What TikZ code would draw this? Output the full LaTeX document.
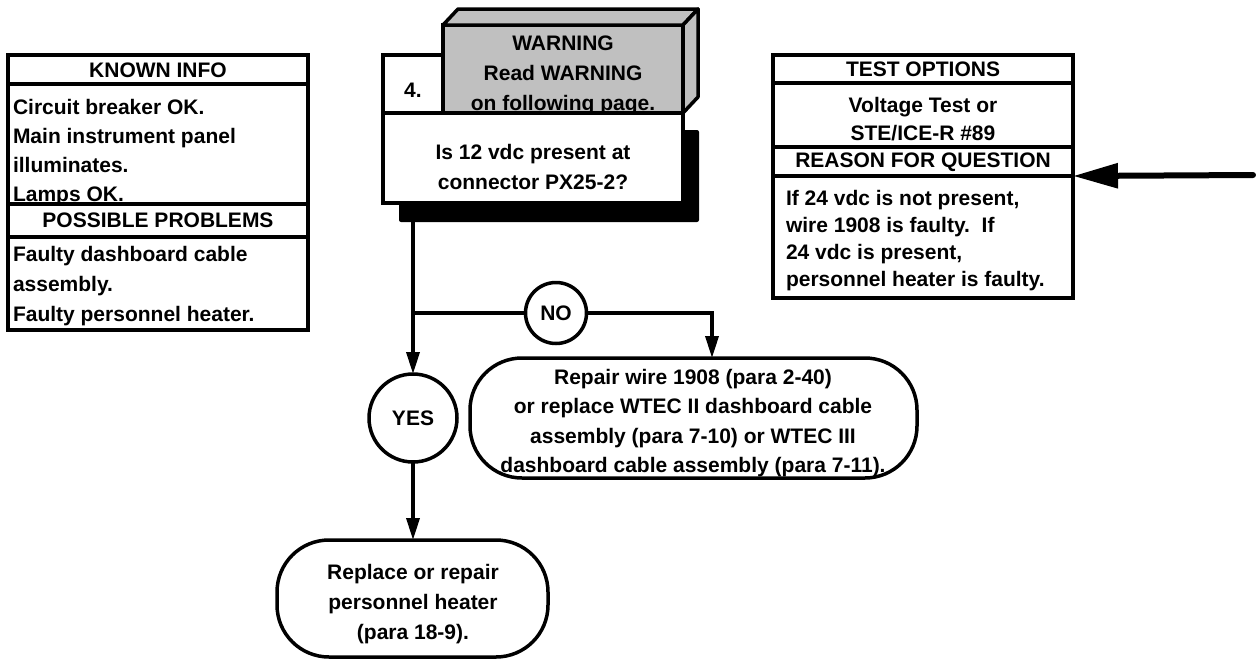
\documentclass[tikz,border=0pt]{standalone}
\usepackage{fontspec}
\setmainfont{Liberation Sans}
\usetikzlibrary{arrows.meta}
\definecolor{wgray}{HTML}{C0C0C0}
\begin{document}
\begin{tikzpicture}[x=1pt,y=-1pt,
  line width=3.5pt,
  every node/.style={inner sep=0pt, outer sep=0pt},
  txt/.style={font=\bfseries\fontsize{21}{29}\selectfont, align=center},
  ltxt/.style={txt, align=left, anchor=west},
  frame/.style={draw, minimum width=300pt, anchor=north west},
  termbox/.style={draw, rounded corners=52pt, fill=white},
  decision/.style={draw, circle, fill=white},
  face/.style={draw, fill=wgray, line join=round},
  ar/.style={-{Triangle[length=22pt,width=13pt]}},
  bigar/.style={line width=6pt, line cap=round, -{Triangle[length=45pt,width=24pt]}}]
\useasboundingbox (0,0) rectangle (1256,662);

% ---------- left table ----------
\node[frame, minimum height=29pt]  (kh) at (8,55) {};
\node[frame, minimum height=120pt] (kt) at (8,84) {};
\node[frame, minimum height=33pt]  (ph) at (8,204) {};
\node[frame, minimum height=93pt]  (pt) at (8,237) {};
\node[txt] (khT) at (158,70) {KNOWN INFO};
\node[ltxt, font=\bfseries\fontsize{21}{29}\selectfont] (ktT) at (13,152.5) {Circuit breaker OK.\\Main instrument panel\\illuminates.\\Lamps OK.};
\node[txt] (phT) at (158,220.5) {POSSIBLE PROBLEMS};
\node[ltxt, font=\bfseries\fontsize{21}{30}\selectfont] (ptT) at (13,286) {Faulty dashboard cable\\assembly.\\Faulty personnel heater.};

% ---------- right table ----------
\node[frame, minimum height=28pt]  (th) at (773,55) {};
\node[frame, minimum height=64pt]  (tt) at (773,83) {};
\node[frame, minimum height=29pt]  (rh) at (773,147) {};
\node[frame, minimum height=122pt] (rt) at (773,176) {};
\node[txt] (thT) at (923,69) {TEST OPTIONS};
\node[txt, font=\bfseries\fontsize{21}{28}\selectfont] (ttT) at (923,119.5) {Voltage Test or\\STE/ICE-R \#89};
\node[txt] (rhT) at (923,162) {REASON FOR QUESTION};
\node[ltxt, font=\bfseries\fontsize{21}{27}\selectfont] (rtT) at (786,240.5) {If 24 vdc is not present,\\wire 1908 is faulty.\ \ If\\24 vdc is present,\\personnel heater is faulty.};

% ---------- connectors ----------
\coordinate (br) at (413,313);
\coordinate (noturn) at (712,313);
\coordinate (rtail) at (1253,175);

% ---------- question block ----------
\node[fill=black, rounded corners=2pt, minimum width=300pt, minimum height=92pt, anchor=north west] (qshadow) at (399,130) {};
\node[draw, fill=wgray, minimum width=240pt, minimum height=88pt, anchor=north west] (warn) at (443,25) {};
\path[face] (warn.north west) -- ++(15,-16) -- ++(240,0) -- (warn.north east) -- cycle;
\path[face] (warn.north east) -- ++(15,-16) -- ++(0,88) -- (warn.south east) -- cycle;
\node[draw, fill=white, minimum width=60pt, minimum height=58pt, anchor=north west] (num) at (383,55) {};
\node[draw, fill=white, minimum width=300pt, minimum height=90pt, anchor=north west] (q) at (383,113) {};
\node[txt] (numT) at (413,90) {4.};
\node[txt, font=\bfseries\fontsize{21}{30}\selectfont] (warnT) at (563,75) {WARNING\\Read WARNING\\on following page.};
\node[txt, font=\bfseries\fontsize{21}{30}\selectfont] (qT) at (533,167) {Is 12 vdc present at\\connector PX25-2?};

% ---------- decisions and results ----------
\node[decision, minimum size=88pt] (yes) at (413,418) {};
\node[txt] (yesT) at (yes.center) {YES};
\node[decision, minimum size=61pt] (no) at (556,313) {};
\node[txt] (noT) at (no.center) {NO};

\node[termbox, minimum width=447pt, minimum height=120pt] (rep) at (693.5,418) {};
\node[txt, font=\bfseries\fontsize{21}{29.5}\selectfont] (repT) at (693,423) {Repair wire 1908 (para 2-40)\\or replace WTEC II dashboard cable\\assembly (para 7-10) or WTEC III\\dashboard cable assembly (para 7-11).};

\node[termbox, minimum width=271pt, minimum height=117pt] (heat) at (412.5,598.5) {};
\node[txt, font=\bfseries\fontsize{21}{30}\selectfont] (heatT) at (413,604) {Replace or repair\\personnel heater\\(para 18-9).};

\draw[ar] (q.south -| yes.north) -- (yes.north);
\draw (br) -- (no.west);
\draw[ar] (no.east) -- (noturn) -- (noturn |- rep.north);
\draw[ar] (yes.south) -- (heat.north -| yes.south);
\draw[bigar] (rtail) -- (rh.south east);
\end{tikzpicture}
\end{document}
